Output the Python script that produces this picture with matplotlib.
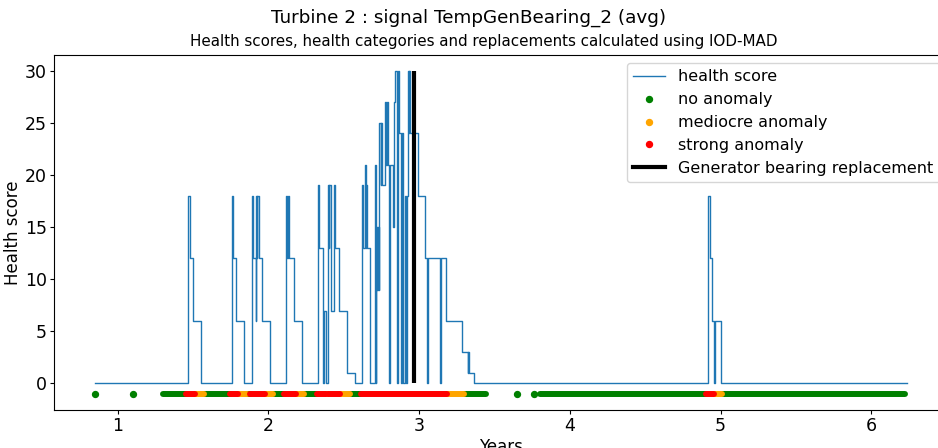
import matplotlib
matplotlib.use("Agg")
import matplotlib.pyplot as plt
from matplotlib.lines import Line2D

# health score change points (years, score), drawn as a step curve
score_years = [
    0.847, 1.467, 1.478, 1.498, 1.553,
    1.757, 1.763, 1.788, 1.839,
    1.889, 1.900, 1.916, 1.920, 1.923, 1.926, 1.936, 1.958, 2.013,
    2.117, 2.122, 2.131, 2.138, 2.168, 2.223,
    2.330, 2.336, 2.360, 2.366, 2.383, 2.396, 2.400, 2.405, 2.414, 2.418,
    2.436, 2.438, 2.445, 2.467, 2.522, 2.577,
    2.622, 2.627, 2.639, 2.645, 2.650, 2.657, 2.677,
    2.705, 2.712, 2.716, 2.722, 2.726, 2.733, 2.737, 2.745, 2.750, 2.754,
    2.776, 2.783, 2.786, 2.792, 2.803, 2.810, 2.825, 2.831, 2.843, 2.850, 2.854,
    2.862, 2.868, 2.880, 2.884, 2.890, 2.905, 2.915, 2.920, 2.924, 2.930,
    2.933, 2.940, 2.991, 3.042, 3.055, 3.059, 3.141, 3.145, 3.175,
    3.285, 3.322, 3.325, 3.329, 3.367,
    4.915, 4.928, 4.946, 4.955, 4.962, 5.004, 6.238,
]
score_values = [
    0, 18, 12, 6, 0,
    18, 12, 6, 0,
    18, 12, 6, 18, 12, 18, 12, 6, 0,
    18, 12, 18, 12, 6, 0,
    19, 13, 0, 7, 0, 19, 13, 19, 13, 7,
    7, 19, 13, 7, 1, 0,
    19, 13, 21, 13, 19, 13, 0,
    21, 0, 15, 9, 15, 9, 25, 19, 25, 19,
    27, 21, 27, 21, 0, 21, 15, 27, 30, 27, 0,
    30, 24, 0, 24, 0, 18, 0, 18, 30, 24,
    30, 24, 18, 12, 0, 12, 0, 12, 6,
    3, 1, 3, 1, 0,
    18, 12, 6, 0, 6, 0, 0,
]

# health category runs at y = -1 (start year, end year, category)
run_start = [1.300, 1.456, 1.515, 1.571, 1.743, 1.796, 1.859, 1.876, 1.974,
             2.031, 2.102, 2.180, 2.235, 2.320, 2.382, 2.393, 2.476, 2.542,
             2.613, 3.187, 3.297, 3.800, 4.906, 4.955, 5.011]
run_end = [1.456, 1.515, 1.571, 1.743, 1.796, 1.859, 1.876, 1.974, 2.031,
           2.102, 2.180, 2.235, 2.320, 2.382, 2.393, 2.476, 2.542, 2.613,
           3.187, 3.297, 3.442, 4.906, 4.955, 5.011, 6.227]
run_category = ["no", "strong", "mediocre", "no", "strong", "mediocre", "no",
                "strong", "mediocre", "no", "strong", "mediocre", "no",
                "strong", "mediocre", "strong", "mediocre", "no", "strong",
                "mediocre", "no", "no", "strong", "mediocre", "no"]
single_no_anomaly = [0.85, 1.10, 3.65, 3.765]

replacement_year = 2.964

colors = {"no": "green", "mediocre": "orange", "strong": "red"}
labels = {"no": "no anomaly", "mediocre": "mediocre anomaly", "strong": "strong anomaly"}

fig = plt.figure(figsize=(9.38, 4.48), dpi=100)
ax = fig.add_axes([0.0576, 0.0848, 0.9528, 0.793])

ax.plot(score_years, score_values, drawstyle="steps-post", color="#1f77b4",
        lw=1.0, label="health score")

# runs of consecutive daily points look like one thick rounded bar
for cat in ["no", "mediocre", "strong"]:
    for s, e, c in zip(run_start, run_end, run_category):
        if c == cat:
            ax.plot([s, e], [-1, -1], color=colors[c], lw=4.3,
                    solid_capstyle="round", zorder=3)
ax.scatter(single_no_anomaly, [-1] * len(single_no_anomaly), s=18,
           color="green", zorder=3)

ax.vlines(replacement_year, 0, max(score_values), color="black", lw=3, zorder=4)

handles = [
    Line2D([], [], color="#1f77b4", lw=1.0),
    Line2D([], [], color="green", marker="o", ms=4.3, ls=""),
    Line2D([], [], color="orange", marker="o", ms=4.3, ls=""),
    Line2D([], [], color="red", marker="o", ms=4.3, ls=""),
    Line2D([], [], color="black", lw=3),
]
ax.legend(handles, ["health score", labels["no"], labels["mediocre"],
                    labels["strong"], "Generator bearing replacement"],
          loc="upper right", fontsize=11.5)

ax.set_xticks([1, 2, 3, 4, 5, 6])
ax.set_yticks([0, 5, 10, 15, 20, 25, 30])
ax.tick_params(labelsize=12.5, length=3, pad=2)
ax.set_xlabel("Years", fontsize=12, labelpad=2)
ax.set_ylabel("Health score", fontsize=12, labelpad=2)
ax.set_title("Health scores, health categories and replacements calculated using IOD-MAD",
             fontsize=10.9, x=0.481)
fig.suptitle("Turbine 2 : signal TempGenBearing_2 (avg)", fontsize=13.2, y=0.96, va="center")

fig.savefig("out.png", dpi=100)
